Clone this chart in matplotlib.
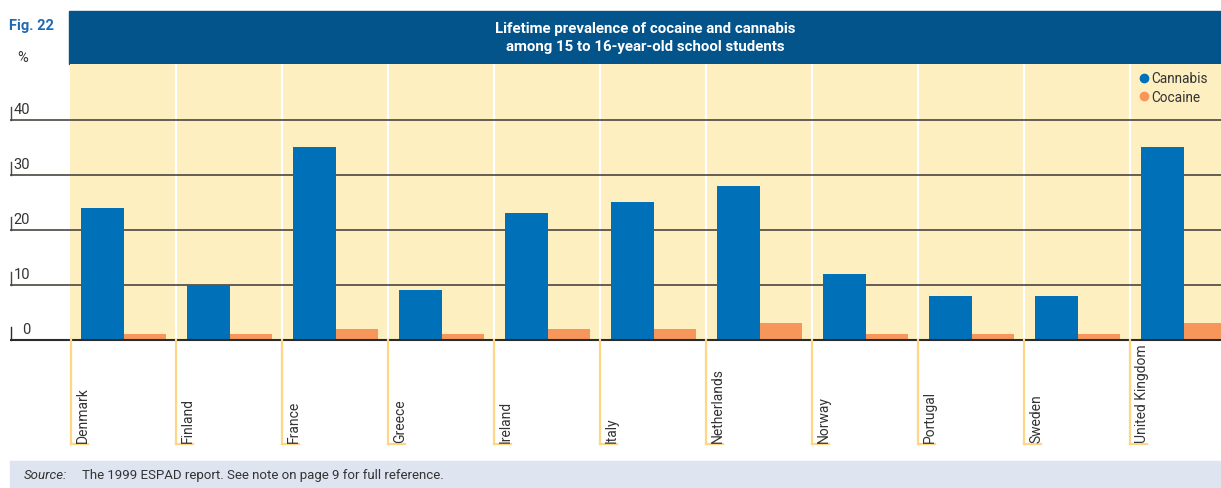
import matplotlib
matplotlib.use("Agg")
import matplotlib.pyplot as plt
from matplotlib.patches import Rectangle
from matplotlib.lines import Line2D
import numpy as np

plt.rcParams['font.family'] = ['Roboto', 'DejaVu Sans']

countries = ['Denmark', 'Finland', 'France', 'Greece', 'Ireland', 'Italy',
             'Netherlands', 'Norway', 'Portugal', 'Sweden', 'United Kingdom']
cannabis = [24, 10, 35, 9, 23, 25, 28, 12, 8, 8, 35]
cocaine = [1, 1, 2, 1, 2, 2, 3, 1, 1, 1, 3]
yticks = [0, 10, 20, 30, 40]

blue = '#0070b8'
orange = '#f7965a'
yellow = '#fdefc0'
band = '#03548b'
W, H = 1221, 489

fig = plt.figure(figsize=(W / 100, H / 100), dpi=100)

def fx(px):
    return px / W

def fy(py):
    return 1 - py / H

# axes: x 70..1221 px, y 65..340.5 px
ax = fig.add_axes([fx(70), fy(340.5), fx(1221 - 70), (340.5 - 65) / H])
ax.set_facecolor(yellow)
cat_w = 106.0
ax.set_xlim(0, (1221 - 70) / cat_w)
ax.set_ylim(0, (340.5 - 65) / 5.5)
for s in ax.spines.values():
    s.set_visible(False)
ax.set_xticks([])
ax.set_yticks([])

x = np.arange(len(countries))
ax.bar(x + 11 / cat_w, cannabis, width=43 / cat_w, align='edge', color=blue, zorder=3, label='Cannabis')
ax.bar(x + 54 / cat_w, cocaine, width=42 / cat_w, align='edge', color=orange, zorder=3, label='Cocaine')

# separators inside plot
for i in x[1:]:
    ax.axvline(i, color='white', lw=1.6, zorder=1)

# gridlines extending to left margin
tr = ax.get_yaxis_transform()
left_ax = (10 - 70) / (1221 - 70)
lab_ax = (30 - 70) / (1221 - 70)
for v in yticks:
    lw = 1.5 if v == 0 else 1.2
    col = '#2b2b2b' if v == 0 else '#4a4640'
    ax.plot([left_ax, 1], [v, v], transform=tr, color=col, lw=lw, clip_on=False,
            zorder=2 if v else 4, solid_capstyle='butt')
    ax.plot([left_ax + 0.0008, left_ax + 0.0008], [v, v + 2.2], transform=tr, color=col,
            lw=1.0, clip_on=False)
    ax.text(lab_ax, v + 0.6, str(v), transform=tr, fontsize=10.5, color='#333333',
            ha='right', va='bottom')

# category brackets and labels below axis
for i, c in enumerate(countries):
    px = 70 + i * cat_w + (1 if i == 0 else 0)
    fig.add_artist(Line2D([fx(px), fx(px)], [fy(341), fy(445)], color='#fdd784', lw=1.6))
    fig.add_artist(Line2D([fx(px), fx(px + 17)], [fy(445), fy(445)], color='#fdd784', lw=1.6))
    fig.text(fx(px + 5), fy(443), c, rotation=90, ha='left', va='bottom',
             fontsize=10, color='#333333')

# title band
fig.add_artist(Rectangle((fx(69), fy(65)), fx(1221 - 69), (65 - 12) / H, color=band,
                         transform=fig.transFigure, zorder=0))
fig.text(fx(645), fy(38), 'Lifetime prevalence of cocaine and cannabis\namong 15 to 16-year-old school students',
         ha='center', va='center', color='white', fontsize=10.8, fontweight='bold', linespacing=1.3)
fig.text(fx(9), fy(26), 'Fig. 22', ha='left', va='center', color='#1f69b3', fontsize=10.5,
         fontweight='bold')
fig.text(fx(17), fy(58), '%', ha='left', va='center', color='#333333', fontsize=10.5)

# legend
handles = [Line2D([], [], marker='o', color=blue, ls='', markersize=6),
           Line2D([], [], marker='o', color=orange, ls='', markersize=6)]
leg = fig.legend(handles, ['Cannabis', 'Cocaine'], loc='upper left',
                 bbox_to_anchor=(fx(1134), fy(67)), frameon=False, handlelength=0.6,
                 handletextpad=0.3, labelspacing=0.35, fontsize=9.8, borderaxespad=0)
for t in leg.get_texts():
    t.set_color('#333333')

# source band
fig.add_artist(Rectangle((fx(10), 0), fx(1221 - 10), (489 - 462) / H, color='#dfe5f0',
                         transform=fig.transFigure, zorder=0))
fig.text(fx(24), fy(476), 'Source:', style='italic', ha='left', va='center', fontsize=9.5,
         color='#333333')
fig.text(fx(82), fy(476), 'The 1999 ESPAD report. See note on page 9 for full reference.',
         ha='left', va='center', fontsize=9.5, color='#333333')

fig.savefig('out.png', dpi=100)
